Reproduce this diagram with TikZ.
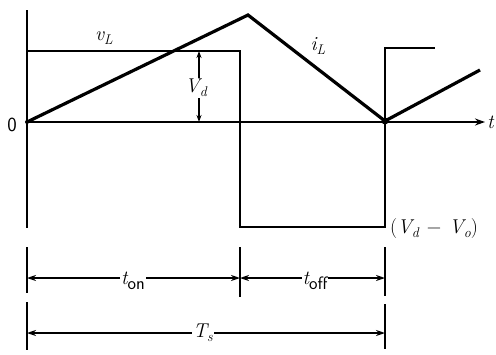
\documentclass[tikz,border=0pt]{standalone}
\usepackage{fontspec}
\usetikzlibrary{arrows.meta}
\newcommand\mysub[1]{\raisebox{-0.45ex}{\fontsize{14}{15}\selectfont #1}}
\newcommand\mysubsf[1]{\raisebox{-0.55ex}{\fontsize{18}{19}\selectfont\sffamily #1}}
\newcommand\myit[1]{{\itshape #1}}
\begin{document}
\begin{tikzpicture}[x=1pt,y=-1pt,
  wave/.style={line width=2pt},
  cur/.style={line width=3.2pt,line join=miter},
  axis/.style={line width=1.8pt},
  dim/.style={line width=1.6pt,{Stealth[length=9pt,width=6pt]}-{Stealth[length=9pt,width=6pt]}},
  tick/.style={line width=1.6pt},
  lbl/.style={font=\fontsize{20}{22}\selectfont,inner sep=1pt,fill=white},
  lbln/.style={font=\fontsize{20}{22}\selectfont,inner sep=1pt}]
\useasboundingbox (0,0) rectangle (496,354);
% coordinates
\coordinate (o) at (27,122);
\coordinate (top) at (27,10);
\coordinate (bot) at (27,228);
\coordinate (xend) at (485,122);
\coordinate (a1) at (27,51);
\coordinate (a2) at (240,51);
\coordinate (a3) at (240,227);
\coordinate (a4) at (385,227);
\coordinate (a5) at (385,48);
\coordinate (a6) at (435,48);
\coordinate (pk) at (248,15);
\coordinate (vl) at (385,121);
\coordinate (ie) at (480,70);
\coordinate (vdt) at (199,51);
\coordinate (vdb) at (199,122);
% axes
\draw[axis] (top) -- (bot);
\draw[axis,-{Stealth[length=10pt,width=7pt]}] (o) -- (xend);
% v_L
\draw[wave] (a1) -- (a2) -- (a3) -- (a4) -- (a5) -- (a6);
% i_L
\draw[cur] (o) -- (pk) -- (vl) -- (ie);
\fill (vl) circle (3.5pt);
\fill (o) circle (2pt);
% V_d
\node[lbl] (vd) at (196,88) {\myit{V}\mysub{\myit{d}}};
\draw[line width=1.4pt,-{Stealth[length=7pt,width=5pt]}] (vd.north -| vdt) -- (vdt);
\draw[line width=1.4pt,-{Stealth[length=7pt,width=5pt]}] (vd.south -| vdb) -- (vdb);
% labels
\node[lbln] (lvl) at (104,38) {\myit{v}\mysub{\myit{L}}};
\node[lbln] (lil) at (318,46) {\myit{i}\mysub{\myit{L}}};
\node[lbln,font=\sffamily\fontsize{20}{22}\selectfont] (zero) at (12,125) {0};
\node[lbln,anchor=west] (tlab) at (486,122) {\myit{t}};
\node[lbln,anchor=west,inner sep=0pt] (vdvo) at (390,229) {(\myit{V}\mysub{\myit{d}}\hspace{8pt}−\hspace{8pt}\myit{V}\mysub{\myit{o}})};
% dimension ticks
\coordinate (t1a) at (27,247); \coordinate (t1b) at (27,293);
\coordinate (t2a) at (240,247); \coordinate (t2b) at (240,297);
\coordinate (t3a) at (385,247); \coordinate (t3b) at (385,296);
\coordinate (s1a) at (27,302); \coordinate (s1b) at (27,350);
\coordinate (s3a) at (385,304); \coordinate (s3b) at (385,349);
\draw[tick] (t1a) -- (t1b);
\draw[tick] (t2a) -- (t2b);
\draw[tick] (t3a) -- (t3b);
\draw[tick] (s1a) -- (s1b);
\draw[tick] (s3a) -- (s3b);
\coordinate (d1l) at (27,278); \coordinate (d1r) at (240,278);
\coordinate (d2l) at (240,278); \coordinate (d2r) at (385,278);
\coordinate (d3l) at (27,333); \coordinate (d3r) at (385,333);
\draw[dim] (d1l) -- (d1r);
\draw[dim] (d2l) -- (d2r);
\draw[dim] (d3l) -- (d3r);
\node[lbl] (ton) at (133,281) {\myit{t}\mysubsf{on}};
\node[lbl] (toff) at (315,281) {\myit{t}\mysubsf{off}};
\node[lbl] (ts) at (203,333) {\myit{T}\mysub{\myit{s}}};
\end{tikzpicture}
\end{document}
